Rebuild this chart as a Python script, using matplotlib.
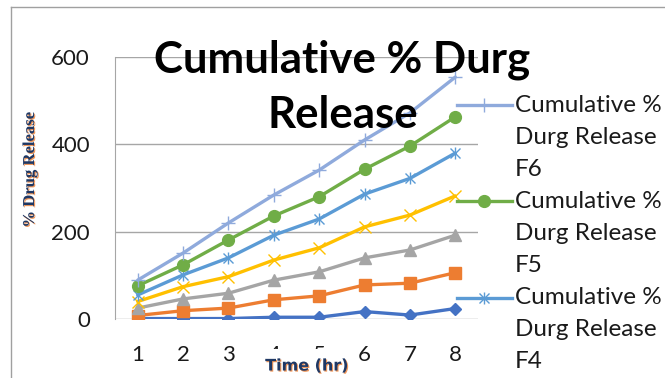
import matplotlib
matplotlib.use('Agg')
from matplotlib import pyplot as plt
from matplotlib.lines import Line2D
import matplotlib.patheffects as pe

hours = [1, 2, 3, 4, 5, 6, 7, 8]
f0 = [1, 1, 1, 4, 4, 17, 9, 24]
f1 = [8, 19, 25, 44, 53, 78, 82, 106]
f2 = [25, 46, 59, 89, 108, 140, 158, 192]
f3 = [40, 74, 97, 135, 163, 211, 238, 282]
f4 = [55, 101, 140, 192, 229, 286, 322, 380]
f5 = [76, 124, 181, 236, 280, 343, 396, 463]
f6 = [89, 151, 220, 284, 341, 410, 472, 554]
y_ticks = [0, 200, 400, 600]

W, H = 665, 378


def fx(px):
    return px / W


def fy(py):
    return 1 - py / H


plt.rcParams['font.family'] = ['Lato', 'DejaVu Sans']

fig = plt.figure(figsize=(W / 100, H / 100), dpi=100)
ax = fig.add_axes([fx(115), fy(319), fx(478) - fx(115), fy(57) - fy(319)])

# series styles, first drawn first (later ones end up on top)
styles = [
    (f0, dict(color='#4472C4', marker='D', ms=6)),
    (f1, dict(color='#ED7D31', marker='s', ms=8)),
    (f2, dict(color='#A5A5A5', marker='^', ms=8.5)),
    (f3, dict(color='#FFC000', marker='x', ms=8, mew=1)),
    (f4, dict(color='#5B9BD5', marker='x', ms=7.5, mew=1)),
    (f5, dict(color='#70AD47', marker='o', ms=8.5)),
    (f6, dict(color='#8FAADC', marker='+', ms=10, mew=1)),
]
for vals, st in styles:
    ax.plot(hours, vals, lw=2.4, solid_capstyle='round', **st)
    if st['color'] == '#5B9BD5':
        # star marker = x with a vertical bar through it
        ax.plot(hours, vals, ls='none', marker='|', ms=9, mew=1,
                color=st['color'])

ax.set_xlim(0.5, 8.5)
ax.set_ylim(0, 600)
ax.set_xticks(hours)
ax.set_yticks(y_ticks)
ax.grid(axis='y', color='#A6A6A6', lw=1)
ax.set_axisbelow(True)
for s in ['top', 'right', 'bottom']:
    ax.spines[s].set_visible(False)
ax.spines['left'].set_color('#A6A6A6')
ax.tick_params(axis='both', length=0, labelsize=16, labelcolor='#1a1a1a')
ax.tick_params(axis='y', pad=18)
ax.tick_params(axis='x', pad=19)

# two-line chart title, laid over the plot
title_kw = dict(ha='center', va='baseline', fontsize=31.5, fontweight='bold',
                zorder=10)
fig.text(fx(342), fy(72), 'Cumulative % Durg', **title_kw)
fig.text(fx(343), fy(128), 'Release', **title_kw)

shadow = [pe.withSimplePatchShadow(offset=(0.8, -0.8), shadow_rgbFace='#ED7D31',
                                   alpha=0.8)]
fig.text(fx(30), fy(170), '% Drug Release', rotation=90, ha='center',
         va='center', fontsize=12, fontweight='bold', color='#1F3864',
         family='Liberation Serif', path_effects=shadow)
fig.text(fx(307), fy(366), 'Time (hr)', ha='center', va='center',
         fontsize=11.5, fontweight='bold', color='#1F3864',
         family='DejaVu Sans', path_effects=shadow, zorder=10,
         bbox=dict(boxstyle='square,pad=0.6', fc='white', ec='none'))

# legend entries on the right (only the top three are in view)
legend_rows = [(105, 'F6', styles[6][1]), (201, 'F5', styles[5][1]),
               (298, 'F4', styles[4][1])]
for yc, name, st in legend_rows:
    fig.add_artist(Line2D([fx(457), fx(484), fx(512)], [fy(yc)] * 3,
                          transform=fig.transFigure, lw=2.4, markevery=[1],
                          **st))
    if name == 'F4':
        fig.add_artist(Line2D([fx(484)], [fy(yc)], transform=fig.transFigure,
                              ls='none', marker='|', ms=9, mew=1,
                              color=st['color']))
    for k, line in enumerate(['Cumulative %', 'Durg Release', name]):
        fig.text(fx(515), fy(yc + 32 * k), line, ha='left', va='center',
                 fontsize=17.5, color='#1a1a1a')

# chart area border
border = dict(transform=fig.transFigure, color='#A0A0A0', lw=1)
fig.add_artist(Line2D([fx(11), 1], [fy(7), fy(7)], **border))
fig.add_artist(Line2D([fx(11), fx(11)], [fy(7), 0], **border))

fig.savefig('out.png', dpi=100)
